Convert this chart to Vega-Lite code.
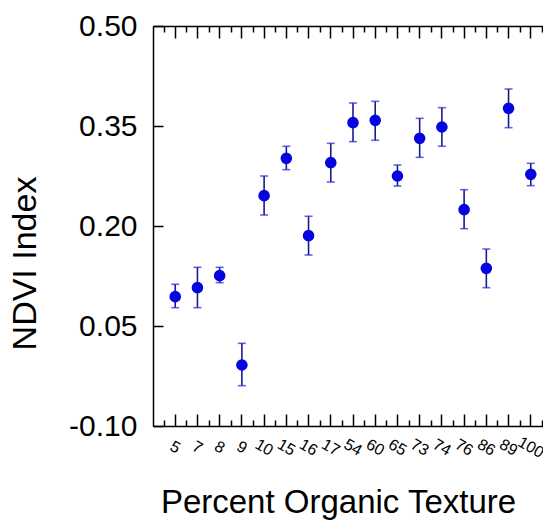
{
  "$schema": "https://vega.github.io/schema/vega-lite/v6.json",
  "autosize": {"type": "none"},
  "padding": {"left": 153, "top": 26, "right": 0, "bottom": 96},
  "width": 400,
  "height": 400,
  "background": "white",
  "config": {
    "view": {"stroke": null},
    "axis": {
      "grid": false,
      "domainColor": "black",
      "domainWidth": 1.5,
      "tickColor": "black",
      "tickWidth": 1.5,
      "labelColor": "black",
      "titleColor": "black",
      "labelFont": "Liberation Sans",
      "titleFont": "Liberation Sans",
      "titleFontWeight": "normal"
    }
  },
  "data": {
    "values": [
      {"pct": "5", "ndvi": 0.094, "lo": 0.0775, "hi": 0.1126},
      {"pct": "7", "ndvi": 0.1075, "lo": 0.0775, "hi": 0.138},
      {"pct": "8", "ndvi": 0.1255, "lo": 0.115, "hi": 0.138},
      {"pct": "9", "ndvi": -0.0085, "lo": -0.0395, "hi": 0.024},
      {"pct": "10", "ndvi": 0.2455, "lo": 0.2165, "hi": 0.275},
      {"pct": "15", "ndvi": 0.3015, "lo": 0.2845, "hi": 0.3196},
      {"pct": "16", "ndvi": 0.1855, "lo": 0.1565, "hi": 0.2146},
      {"pct": "17", "ndvi": 0.295, "lo": 0.266, "hi": 0.324},
      {"pct": "54", "ndvi": 0.355, "lo": 0.3265, "hi": 0.3845},
      {"pct": "60", "ndvi": 0.3585, "lo": 0.3286, "hi": 0.387},
      {"pct": "65", "ndvi": 0.275, "lo": 0.26, "hi": 0.2915},
      {"pct": "73", "ndvi": 0.3315, "lo": 0.303, "hi": 0.3615},
      {"pct": "74", "ndvi": 0.3485, "lo": 0.3196, "hi": 0.3775},
      {"pct": "76", "ndvi": 0.2245, "lo": 0.196, "hi": 0.2545},
      {"pct": "86", "ndvi": 0.1365, "lo": 0.1075, "hi": 0.1655},
      {"pct": "89", "ndvi": 0.3765, "lo": 0.3475, "hi": 0.4055},
      {"pct": "100", "ndvi": 0.2775, "lo": 0.2605, "hi": 0.294}
    ]
  },
  "resolve": {"axis": {"x": "independent", "y": "independent"}},
  "layer": [
    {
      "mark": {"type": "rule", "color": "#1a1a8a", "strokeWidth": 1.6},
      "encoding": {
        "x": {
          "field": "pct", "type": "ordinal", "sort": null,
          "scale": {"type": "band", "paddingInner": 0, "paddingOuter": 0.5},
          "axis": {
            "orient": "bottom", "title": "Percent Organic Texture",
            "titleFontSize": 33, "titleX": 185, "titleY": 86,
            "titleAlign": "center", "titleBaseline": "alphabetic",
            "tickSize": -12, "bandPosition": 0.5,
            "labelAngle": 30, "labelAlign": "center", "labelBaseline": "middle",
            "labelFontSize": 16, "labelPadding": 33, "labelOverlap": false
          }
        },
        "y": {
          "field": "lo", "type": "quantitative",
          "scale": {"domain": [-0.1, 0.5], "nice": false, "zero": false},
          "axis": {
            "orient": "left", "title": "NDVI Index",
            "titleFontSize": 34, "titleX": -128, "titleY": 237,
            "titleAlign": "center", "titleBaseline": "middle", "titleAngle": -90,
            "values": [-0.1, 0.05, 0.2, 0.35, 0.5],
            "labelExpr": "replace(format(datum.value, '.2f'), '\u2212', '-')",
            "tickSize": -10, "labelFontSize": 30, "labelPadding": 26
          }
        },
        "y2": {"field": "hi"}
      }
    },
    {
      "mark": {"type": "tick", "orient": "horizontal", "color": "#2424d8", "size": 8, "thickness": 1.6},
      "encoding": {
        "x": {
          "field": "pct", "type": "ordinal", "sort": null,
          "axis": {"orient": "top", "title": null, "labels": false, "tickSize": -12, "bandPosition": 0.5}
        },
        "y": {
          "field": "lo", "type": "quantitative",
          "axis": {"orient": "right", "title": null, "labels": false, "values": [-0.1, 0.05, 0.2, 0.35, 0.5], "tickSize": -10}
        }
      }
    },
    {
      "mark": {"type": "tick", "orient": "horizontal", "color": "#2424d8", "size": 8, "thickness": 1.6},
      "encoding": {
        "x": {
          "field": "pct", "type": "ordinal", "sort": null,
          "axis": {"orient": "bottom", "title": null, "labels": false, "domain": false, "tickSize": -6, "tickBand": "extent"}
        },
        "y": {"field": "hi", "type": "quantitative", "axis": null}
      }
    },
    {
      "mark": {"type": "circle", "color": "#0505e0", "opacity": 1, "size": 135},
      "encoding": {
        "x": {
          "field": "pct", "type": "ordinal", "sort": null,
          "axis": {"orient": "top", "title": null, "labels": false, "domain": false, "tickSize": -6, "tickBand": "extent"}
        },
        "y": {"field": "ndvi", "type": "quantitative", "axis": null}
      }
    }
  ]
}
